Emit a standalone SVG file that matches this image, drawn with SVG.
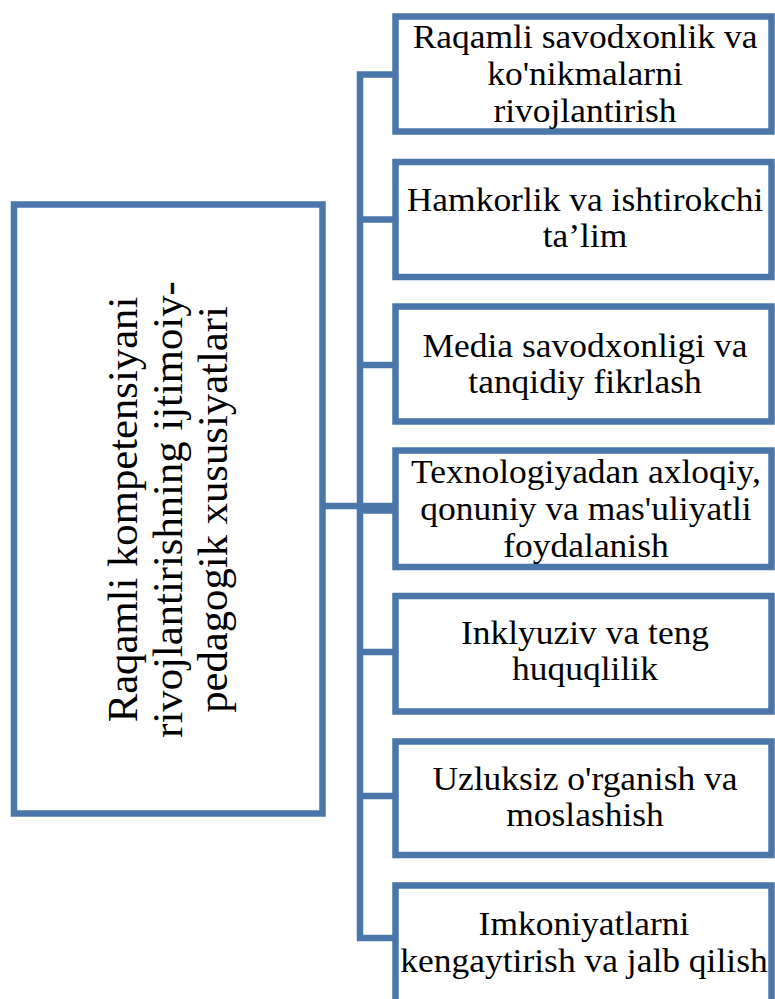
<svg xmlns="http://www.w3.org/2000/svg" width="775" height="999" viewBox="0 0 775 999">
<style>
.box{fill:#fff;stroke:#4a76aa;stroke-width:6.5}
.con{fill:none;stroke:#4a76aa;stroke-width:6.5;stroke-linejoin:miter}
.t{font-family:"Liberation Serif","Times New Roman",serif;font-size:33px;fill:#000;text-anchor:middle}
.lt{font-family:"Liberation Serif","Times New Roman",serif;font-size:42.7px;fill:#000;text-anchor:middle}
</style>
<rect width="775" height="999" fill="#fff"/>
<g id="connectors">
<path class="con" d="M395.5,74.5 H360 V938 H395.5"/>
<path class="con" d="M360,219.5 H395.5"/>
<path class="con" d="M360,365 H395.5"/>
<path class="con" d="M322.5,506 H395.5"/>
<path class="con" d="M360,510.5 H395.5"/>
<path class="con" d="M360,652 H395.5"/>
<path class="con" d="M360,796 H395.5"/>
</g>
<g id="main">
<rect class="box" x="14" y="204.5" width="308.5" height="609"/>
<text class="lt" transform="translate(137,509.5) rotate(-90)"><tspan x="0" y="0">Raqamli kompetensiyani</tspan><tspan x="0" y="45">rivojlantirishning ijtimoiy-</tspan><tspan x="0" y="90">pedagogik xususiyatlari</tspan></text>
</g>
<g id="n1">
<rect class="box" x="395.5" y="16.5" width="376" height="115"/>
<text class="t" transform="translate(585,48.3) scale(1.075,1)"><tspan x="0" y="0">Raqamli savodxonlik va</tspan><tspan x="0" y="36.7">ko'nikmalarni</tspan><tspan x="0" y="73.4">rivojlantirish</tspan></text>
</g>
<g id="n2">
<rect class="box" x="395.5" y="162" width="376" height="115"/>
<text class="t" transform="translate(585,211) scale(1.075,1)"><tspan x="0" y="0">Hamkorlik va ishtirokchi</tspan><tspan x="0" y="36.5">ta’lim</tspan></text>
</g>
<g id="n3">
<rect class="box" x="395.5" y="306.5" width="376" height="115"/>
<text class="t" transform="translate(585,357) scale(1.075,1)"><tspan x="0" y="0">Media savodxonligi va</tspan><tspan x="0" y="36.5">tanqidiy fikrlash</tspan></text>
</g>
<g id="n4">
<rect class="box" x="395.5" y="450.5" width="376" height="116.5"/>
<text class="t" transform="translate(586,482.7) scale(1.075,1)"><tspan x="0" y="0">Texnologiyadan axloqiy,</tspan><tspan x="0" y="37">qonuniy va mas'uliyatli</tspan><tspan x="0" y="74">foydalanish</tspan></text>
</g>
<g id="n5">
<rect class="box" x="395.5" y="596" width="376" height="115.5"/>
<text class="t" transform="translate(585,644) scale(1.075,1)"><tspan x="0" y="0">Inklyuziv va teng</tspan><tspan x="0" y="36.5">huquqlilik</tspan></text>
</g>
<g id="n6">
<rect class="box" x="395.5" y="741.5" width="376" height="113.5"/>
<text class="t" transform="translate(585,790) scale(1.075,1)"><tspan x="0" y="0">Uzluksiz o'rganish va</tspan><tspan x="0" y="36.5">moslashish</tspan></text>
</g>
<g id="n7">
<rect class="box" x="395.5" y="885.5" width="376" height="122"/>
<text class="t" transform="translate(584,935) scale(1.075,1)"><tspan x="0" y="0">Imkoniyatlarni</tspan><tspan x="0" y="36.7">kengaytirish va jalb qilish</tspan></text>
</g>
</svg>
